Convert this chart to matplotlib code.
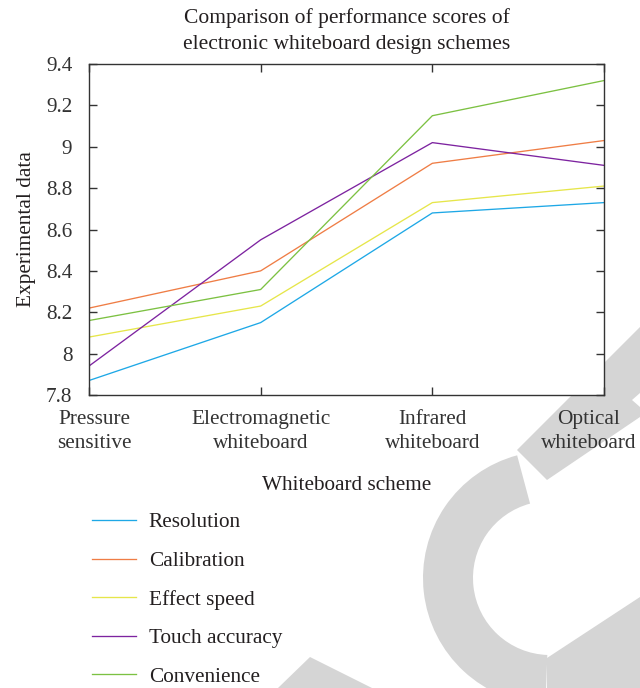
import matplotlib
matplotlib.use("Agg")
import matplotlib.pyplot as plt
import matplotlib as mpl
from matplotlib.patches import Polygon, Wedge
from matplotlib.transforms import ScaledTranslation
import numpy as np

mpl.rcParams['font.family'] = ['Liberation Serif', 'DejaVu Serif']
mpl.rcParams['text.color'] = '#231f20'
mpl.rcParams['axes.labelcolor'] = '#231f20'
mpl.rcParams['xtick.color'] = '#333333'
mpl.rcParams['ytick.color'] = '#333333'

# data
schemes = ["Pressure\nsensitive", "Electromagnetic\nwhiteboard",
           "Infrared\nwhiteboard", "Optical\nwhiteboard"]
resolution = [7.87, 8.15, 8.68, 8.73]
calibration = [8.22, 8.40, 8.92, 9.03]
effect_speed = [8.08, 8.23, 8.73, 8.81]
touch_accuracy = [7.94, 8.55, 9.02, 8.91]
convenience = [8.16, 8.31, 9.15, 9.32]

series_names = ["Resolution", "Calibration", "Effect speed",
                "Touch accuracy", "Convenience"]
series_colors = ["#1ea8e6", "#ef7d45", "#e6e64a", "#7d23a0", "#7cc142"]
yticks = [7.8, 8, 8.2, 8.4, 8.6, 8.8, 9, 9.2, 9.4]
ytick_labels = ["7.8", "8", "8.2", "8.4", "8.6", "8.8", "9", "9.2", "9.4"]

FS = 15.3

fig = plt.figure(figsize=(6.4, 6.88), dpi=100)
ax = fig.add_axes([89/640, 1-395/688, (604-89)/640, (395-64)/688])

x = np.arange(len(schemes))
for vals, name, col in zip([resolution, calibration, effect_speed,
                            touch_accuracy, convenience],
                           series_names, series_colors):
    ax.plot(x, vals, color=col, lw=0.95, label=name)

ax.set_xlim(0, 3)
ax.set_ylim(7.8, 9.4)
ax.set_xticks(x)
ax.set_xticklabels(schemes, fontsize=FS, linespacing=1.37)
ax.set_yticks(yticks)
ax.set_yticklabels(ytick_labels, fontsize=FS)
ax.tick_params(direction='in', length=6, width=1, top=True, right=True)
ax.tick_params(axis='y', pad=12)
ax.tick_params(axis='x', pad=11)
for s in ax.spines.values():
    s.set_color('#333333')
    s.set_linewidth(1.0)

# outer labels are nudged inwards like in the original
labs = ax.get_xticklabels()
labs[0].set_transform(labs[0].get_transform() + ScaledTranslation(0.05, 0, fig.dpi_scale_trans))
labs[-1].set_transform(labs[-1].get_transform() + ScaledTranslation(-0.15, 0, fig.dpi_scale_trans))

ax.set_title("Comparison of performance scores of\nelectronic whiteboard design schemes",
             fontsize=15.5, pad=10.5, linespacing=1.52)
ax.set_xlabel("Whiteboard scheme", fontsize=FS, labelpad=16)
ax.set_ylabel("Experimental data", fontsize=FS, labelpad=7)

ax.legend(loc='upper left', bbox_to_anchor=(83/640, 1-504/688),
          bbox_transform=fig.transFigure, frameon=False, fontsize=FS,
          handlelength=2.1, handletextpad=0.6, labelspacing=0.88,
          borderpad=0.4, borderaxespad=0)

# grey retraction watermark shapes behind the text
wm = '#d5d5d5'
def px(pts):
    return [(a/100, (688-b)/100) for a, b in pts]
fig.patches.append(Polygon(px([(517, 450), (640, 327), (640, 393), (632, 400),
                               (640, 407), (640, 417), (547, 480)]),
                           closed=True, color=wm, lw=0, zorder=-5,
                           transform=fig.dpi_scale_trans))
fig.patches.append(Wedge((5.50, 1.10), 1.27, 105, 268, width=0.5, color=wm,
                         lw=0, zorder=-5, transform=fig.dpi_scale_trans))
fig.patches.append(Polygon(px([(547, 658), (640, 597), (640, 688), (547, 688)]),
                           closed=True, color=wm, lw=0, zorder=-5,
                           transform=fig.dpi_scale_trans))
fig.patches.append(Polygon(px([(310, 657), (278, 688), (372, 688)]),
                           closed=True, color=wm, lw=0, zorder=-5,
                           transform=fig.dpi_scale_trans))

fig.savefig("out.png", dpi=100)
